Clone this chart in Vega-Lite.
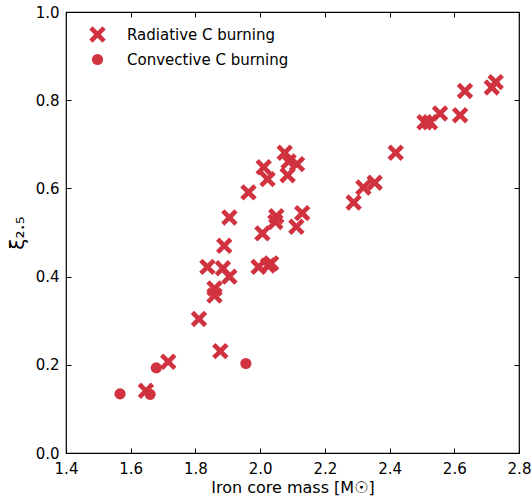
{
  "$schema": "https://vega.github.io/schema/vega-lite/v6.json",
  "width": 453,
  "height": 441,
  "autosize": {"type": "none"},
  "padding": {"left": 66, "top": 12, "right": 13, "bottom": 47},
  "config": {
    "font": "DejaVu Sans",
    "view": {"stroke": "black", "strokeWidth": 1.2},
    "axis": {
      "domain": false,
      "grid": false,
      "tickColor": "black",
      "tickSize": -5,
      "tickWidth": 1,
      "labelFontSize": 15,
      "labelColor": "black",
      "labelFont": "DejaVu Sans",
      "titleFont": "DejaVu Sans",
      "titleFontSize": 16,
      "titleFontWeight": "normal",
      "titleColor": "black",
      "labelOverlap": false,
      "labelFlush": false,
      "labelBound": false
    }
  },
  "data": {
    "values": [
      {"mass": 1.567, "xi": 0.134, "type": "Convective C burning"},
      {"mass": 1.660, "xi": 0.133, "type": "Convective C burning"},
      {"mass": 1.679, "xi": 0.193, "type": "Convective C burning"},
      {"mass": 1.956, "xi": 0.203, "type": "Convective C burning"},
      {"mass": 1.647, "xi": 0.141, "type": "Radiative C burning"},
      {"mass": 1.716, "xi": 0.207, "type": "Radiative C burning"},
      {"mass": 1.811, "xi": 0.304, "type": "Radiative C burning"},
      {"mass": 1.859, "xi": 0.373, "type": "Radiative C burning"},
      {"mass": 1.859, "xi": 0.357, "type": "Radiative C burning"},
      {"mass": 1.877, "xi": 0.231, "type": "Radiative C burning"},
      {"mass": 1.837, "xi": 0.422, "type": "Radiative C burning"},
      {"mass": 1.885, "xi": 0.419, "type": "Radiative C burning"},
      {"mass": 1.905, "xi": 0.400, "type": "Radiative C burning"},
      {"mass": 1.889, "xi": 0.470, "type": "Radiative C burning"},
      {"mass": 1.905, "xi": 0.534, "type": "Radiative C burning"},
      {"mass": 1.964, "xi": 0.591, "type": "Radiative C burning"},
      {"mass": 1.995, "xi": 0.422, "type": "Radiative C burning"},
      {"mass": 2.034, "xi": 0.430, "type": "Radiative C burning"},
      {"mass": 2.024, "xi": 0.425, "type": "Radiative C burning"},
      {"mass": 2.007, "xi": 0.498, "type": "Radiative C burning"},
      {"mass": 2.011, "xi": 0.648, "type": "Radiative C burning"},
      {"mass": 2.023, "xi": 0.621, "type": "Radiative C burning"},
      {"mass": 2.050, "xi": 0.537, "type": "Radiative C burning"},
      {"mass": 2.047, "xi": 0.524, "type": "Radiative C burning"},
      {"mass": 2.076, "xi": 0.681, "type": "Radiative C burning"},
      {"mass": 2.088, "xi": 0.661, "type": "Radiative C burning"},
      {"mass": 2.114, "xi": 0.655, "type": "Radiative C burning"},
      {"mass": 2.085, "xi": 0.630, "type": "Radiative C burning"},
      {"mass": 2.130, "xi": 0.544, "type": "Radiative C burning"},
      {"mass": 2.112, "xi": 0.513, "type": "Radiative C burning"},
      {"mass": 2.289, "xi": 0.568, "type": "Radiative C burning"},
      {"mass": 2.319, "xi": 0.602, "type": "Radiative C burning"},
      {"mass": 2.354, "xi": 0.613, "type": "Radiative C burning"},
      {"mass": 2.419, "xi": 0.681, "type": "Radiative C burning"},
      {"mass": 2.508, "xi": 0.750, "type": "Radiative C burning"},
      {"mass": 2.525, "xi": 0.750, "type": "Radiative C burning"},
      {"mass": 2.556, "xi": 0.770, "type": "Radiative C burning"},
      {"mass": 2.618, "xi": 0.766, "type": "Radiative C burning"},
      {"mass": 2.633, "xi": 0.821, "type": "Radiative C burning"},
      {"mass": 2.716, "xi": 0.829, "type": "Radiative C burning"},
      {"mass": 2.728, "xi": 0.841, "type": "Radiative C burning"}
    ]
  },
  "resolve": {"axis": {"x": "independent", "y": "independent"}},
  "layer": [
    {
      "mark": {"type": "point", "filled": true, "color": "#d1323f", "opacity": 1},
      "encoding": {
        "x": {
          "field": "mass", "type": "quantitative",
          "scale": {"domain": [1.4, 2.8], "nice": false, "zero": false},
          "axis": {"orient": "bottom", "values": [1.4, 1.6, 1.8, 2.0, 2.2, 2.4, 2.6, 2.8], "format": ".1f", "labelPadding": 13, "title": "Iron core mass [M☉]", "titlePadding": 3}
        },
        "y": {
          "field": "xi", "type": "quantitative",
          "scale": {"domain": [0, 1], "nice": false},
          "axis": {"orient": "left", "values": [0, 0.2, 0.4, 0.6, 0.8, 1.0], "format": ".1f", "labelPadding": 12, "title": "ξ₂.₅", "titleFontSize": 20, "titlePadding": 8}
        },
        "shape": {
          "field": "type", "type": "nominal",
          "scale": {
            "domain": ["Radiative C burning", "Convective C burning"],
            "range": ["M -1,-0.6 L -0.6,-1 L 0,-0.4 L 0.6,-1 L 1,-0.6 L 0.4,0 L 1,0.6 L 0.6,1 L 0,0.4 L -0.6,1 L -1,0.6 L -0.4,0 Z", "circle"]
          },
          "legend": {
            "title": null,
            "orient": "none",
            "legendX": 23,
            "legendY": 14,
            "labelFontSize": 15,
            "labelFont": "DejaVu Sans",
            "labelColor": "black",
            "labelLimit": 400,
            "labelOffset": 21,
            "rowPadding": 9,
            "padding": 0,
            "symbolFillColor": "#d1323f",
            "symbolStrokeWidth": 0
          }
        },
        "size": {
          "field": "type", "type": "nominal",
          "scale": {
            "domain": ["Radiative C burning", "Convective C burning"],
            "range": [270, 125]
          }
        }
      }
    },
    {
      "mark": {"type": "point", "opacity": 0},
      "encoding": {
        "x": {
          "field": "mass", "type": "quantitative",
          "axis": {"orient": "top", "values": [1.4, 1.6, 1.8, 2.0, 2.2, 2.4, 2.6, 2.8], "labels": false, "title": null}
        },
        "y": {
          "field": "xi", "type": "quantitative",
          "axis": {"orient": "right", "values": [0, 0.2, 0.4, 0.6, 0.8, 1.0], "labels": false, "title": null}
        }
      }
    }
  ]
}
